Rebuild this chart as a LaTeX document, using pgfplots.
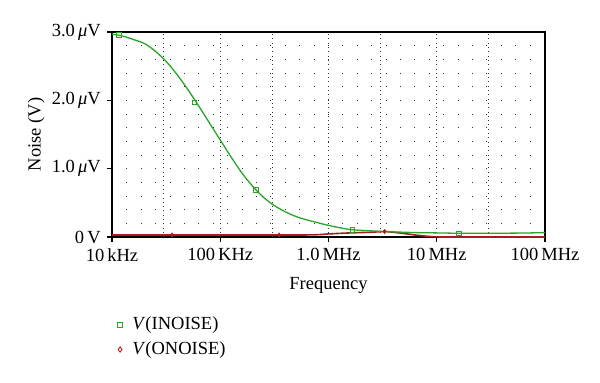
\documentclass[border=0pt]{standalone}
\usepackage{fontspec}
\setmainfont{Liberation Serif}
\usepackage{pgfplots}
\pgfplotsset{compat=1.18}
\definecolor{ngreen}{RGB}{40,165,40}
\definecolor{nred}{RGB}{165,30,30}
\begin{document}
\fontsize{18.5}{21}\selectfont
\begin{tikzpicture}
\useasboundingbox (-112pt,-146pt) rectangle (488pt,237pt);
\begin{axis}[
  scale only axis, width=433pt, height=205pt,
  xmode=log, xmin=1e4, xmax=1e8, ymin=0, ymax=3.0,
  xtick={1e4,1e5,1e6,1e7,1e8},
  xticklabels={10\,kHz,100\,KHz,1.0\,MHz,10\,MHz,100\,MHz},
  ytick={0,1,2,3},
  yticklabels={0\,V,1.0\,{\itshape μ}V,2.0\,{\itshape μ}V,3.0\,{\itshape μ}V},
  xminorticks=false,
  minor y tick num=4,
  tick align=outside, tick pos=left,
  major tick length=5pt, minor tick length=0pt,
  axis line style={line width=1.2pt},
  every tick/.style={line width=1.2pt, black},
  xmajorgrids, ymajorgrids, yminorgrids,
  major x grid style={black!80, line width=0.8pt, dash pattern=on 0.8pt off 3.5pt},
  major y grid style={black!80, line width=0.8pt, dash pattern=on 0.8pt off 13.6pt},
  minor y grid style={black!80, line width=0.8pt, dash pattern=on 0.8pt off 13.6pt},
  extra x ticks={3e4,3e5,3e6,3e7},
  extra x tick labels={},
  extra x tick style={grid=major, major tick length=0pt},
  xlabel={Frequency},
  ylabel={Noise (V)},
  every axis x label/.style={at={(axis description cs:0.5,-0.234)}, anchor=center},
  every axis y label/.style={at={(axis description cs:-0.175,0.5)}, rotate=90, anchor=center},
  legend style={at={(axis description cs:0.006,-0.37)}, anchor=north west, draw=none, fill=none, row sep=5pt, font=\fontsize{18.5}{21}\selectfont},
  legend cell align=left,
  clip=false,
]
% ONOISE curve
\addplot[nred, line width=1.6pt, smooth, forget plot] coordinates {
(1e4,0.03) (1e5,0.03) (6.3e5,0.03) (1e6,0.045) (1.58e6,0.06) (2.5e6,0.07) (3.3e6,0.08) (4.5e6,0.06) (6.3e6,0.03) (8.9e6,0.006) (1.26e7,0.0) (1e8,0.0)
};
% INOISE curve
\addplot[ngreen, line width=1.3pt, smooth, forget plot] coordinates {
(1e4,2.97) (1.26e4,2.94) (1.58e4,2.89) (2e4,2.83) (2.51e4,2.72) (3.16e4,2.57) (3.98e4,2.38) (5.01e4,2.16) (6.31e4,1.92) (7.94e4,1.67) (1e5,1.42) (1.26e5,1.17) (1.58e5,0.94) (2e5,0.74) (2.51e5,0.58) (3.16e5,0.46) (3.98e5,0.37) (5.01e5,0.30) (6.31e5,0.25) (7.94e5,0.21) (1e6,0.17) (1.58e6,0.11) (2.51e6,0.09) (3.98e6,0.075) (6.31e6,0.065) (1e7,0.06) (1.58e7,0.055) (3.16e7,0.055) (6.31e7,0.058) (1e8,0.065)
};
% markers
\addplot[only marks, mark=diamond*, mark size=2.2pt, nred, forget plot] coordinates {
(3.6e4,0.03) (3.5e5,0.03) (3.3e6,0.08)
};
\addplot[only marks, mark=square, mark size=2.3pt, ngreen, line width=0.9pt, forget plot] coordinates {
(1.16e4,2.96) (5.8e4,1.97) (2.13e5,0.69) (1.67e6,0.10) (1.6e7,0.05)
};
\addlegendimage{only marks, mark=square, mark size=2.3pt, ngreen, line width=0.9pt}
\addlegendentry{\hspace{8pt}\textit{V}(INOISE)}
\addlegendimage{only marks, mark=diamond, mark size=2.6pt, nred, line width=0.9pt}
\addlegendentry{\hspace{8pt}\textit{V}(ONOISE)}
\end{axis}
\end{tikzpicture}
\end{document}
